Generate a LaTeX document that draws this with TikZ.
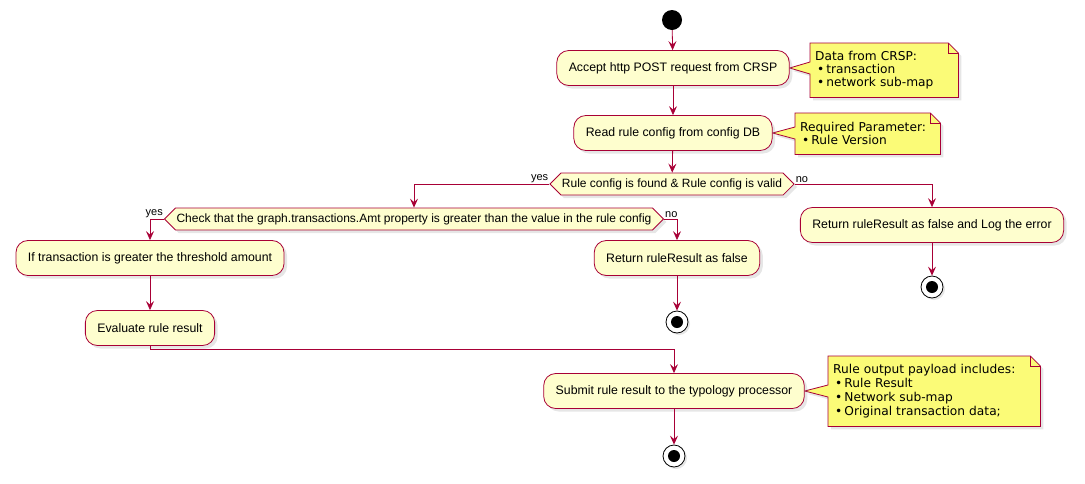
\documentclass[tikz,border=0pt]{standalone}
\usepackage{fontspec}
\setmainfont{Liberation Sans}
\newfontfamily\notefont{DejaVu Sans}
\usetikzlibrary{arrows.meta, positioning, shapes.symbols, shadows, backgrounds}

\definecolor{umlred}{HTML}{A80036}
\definecolor{actfill}{HTML}{FEFECE}
\definecolor{notefill}{HTML}{FBFB77}

\begin{document}
\begin{tikzpicture}[x=1pt, y=-1pt,
  flow/.style={draw=umlred, line width=0.8pt, -{Stealth[length=9pt, width=8pt, inset=3.5pt]}},
  activity/.style={draw=umlred, line width=0.8pt, fill=actfill, rounded corners=12pt,
    minimum height=35pt, inner xsep=12pt, font=\fontsize{12.3}{14}\selectfont,
    drop shadow={shadow xshift=3pt, shadow yshift=-3pt, opacity=0.2}},
  decision/.style={shape=signal, signal to=west and east, draw=umlred, line width=0.8pt,
    fill=actfill, minimum height=22pt, inner xsep=1pt, inner ysep=2pt,
    font=\fontsize{12}{13}\selectfont,
    drop shadow={shadow xshift=3pt, shadow yshift=-3pt, opacity=0.2}},
  notetext/.style={align=left, inner xsep=5pt, inner ysep=0pt, anchor=north west,
    font=\notefont\fontsize{12.2}{14.5}\selectfont},
  branch/.style={font=\fontsize{11}{13}\selectfont, inner sep=1pt},
  startdot/.style={circle, fill=black, minimum size=20pt, inner sep=0pt},
  stopdot/.style={circle, draw=black, line width=0.8pt, fill=white, minimum size=22pt,
    inner sep=0pt, drop shadow={shadow xshift=2pt, shadow yshift=-2pt, opacity=0.2},
    path picture={\fill[black] (path picture bounding box.center) circle (6pt);}}
]
  \useasboundingbox (0,0) rectangle (1085,483);

  % main flow
  \node[startdot] (start) at (672,20) {};
  \node[activity] (accept) at (673,68) {Accept http POST request from CRSP};
  \node[activity] (readcfg) at (673,133) {Read rule config from config DB};
  \node[decision] (cfgok) at (672,184) {Rule config is found \& Rule config is valid};

  % config not ok
  \node[activity] (logerr) at (932,225) {Return ruleResult as false and Log the error};
  \node[stopdot] (stop1) at (932,287) {};

  % amount check
  \node[decision] (chkamt) at (414,219) {Check that the graph.transactions.Amt property is greater than the value in the rule config};
  \node[activity] (overamt) at (150,258) {If transaction is greater the threshold amount};
  \node[activity] (evalres) at (150,328) {Evaluate rule result};
  \node[activity] (retfalse) at (677,258) {Return ruleResult as false};
  \node[stopdot] (stop2) at (677,322) {};

  % submit
  \coordinate (merge) at (674,349);
  \node[activity] (submit) at (674,391) {Submit rule result to the typology processor};
  \node[stopdot] (stop3) at (674,456) {};

  % notes
  \node[notetext, text width=138pt, minimum height=54pt] (notecrsp) at (810,43)
    {Data from CRSP:\\[-1.5pt]
     \hspace{2pt}\textbullet\,transaction\\[-1.5pt]
     \hspace{2pt}\textbullet\,network sub-map};
  \node[notetext, text width=135pt, minimum height=41pt] (noteparam) at (795,113)
    {Required Parameter:\\[-1.5pt]
     \hspace{2pt}\textbullet\,Rule Version};
  \node[notetext, text width=202pt, minimum height=70pt] (notepayload) at (828,356)
    {Rule output payload includes:\\[-0.5pt]
     \hspace{2pt}\textbullet\,Rule Result\\[-0.5pt]
     \hspace{2pt}\textbullet\,Network sub-map\\[-0.5pt]
     \hspace{2pt}\textbullet\,Original transaction data;};

  \begin{scope}[on background layer]
    \foreach \n/\a in {notecrsp/accept, noteparam/readcfg, notepayload/submit} {
      \coordinate (p) at (\n.west |- \a.east);
      \path[draw=umlred, line width=0.8pt, fill=notefill,
            drop shadow={shadow xshift=3pt, shadow yshift=-3pt, opacity=0.2}]
        (\n.north west) -- ([xshift=-10pt]\n.north east) -- ([yshift=-10pt]\n.north east)
        -- (\n.south east) -- (\n.south west) -- ([yshift=-6pt]p) -- (\a.east)
        -- ([yshift=6pt]p) -- cycle;
      \draw[umlred, line width=0.8pt] ([xshift=-10pt]\n.north east) -- ++(0,10) -- ++(10,0);
    }
  \end{scope}

  % connectors
  \draw[flow] (start) -- (accept);
  \draw[flow] (accept) -- (readcfg);
  \draw[flow] (readcfg) -- (cfgok);
  \draw[flow] (cfgok.west) -| (chkamt.north);
  \draw[flow] (cfgok.east) -| (logerr.north);
  \draw[flow] (logerr) -- (stop1);
  \draw[flow] (chkamt.west) -| (overamt.north);
  \draw[flow] (chkamt.east) -| (retfalse.north);
  \draw[flow] (retfalse) -- (stop2);
  \draw[flow] (overamt) -- (evalres);
  \draw[flow] (evalres.south) |- (merge) -- (submit.north);
  \draw[flow] (submit) -- (stop3);

  % branch labels
  \node[branch, anchor=south east] (yes1) at (cfgok.west) {yes};
  \node[branch, anchor=south west] (no1) at (cfgok.east) {no};
  \node[branch, anchor=south east] (yes2) at (chkamt.west) {yes};
  \node[branch, anchor=south west] (no2) at (chkamt.east) {no};
\end{tikzpicture}
\end{document}
